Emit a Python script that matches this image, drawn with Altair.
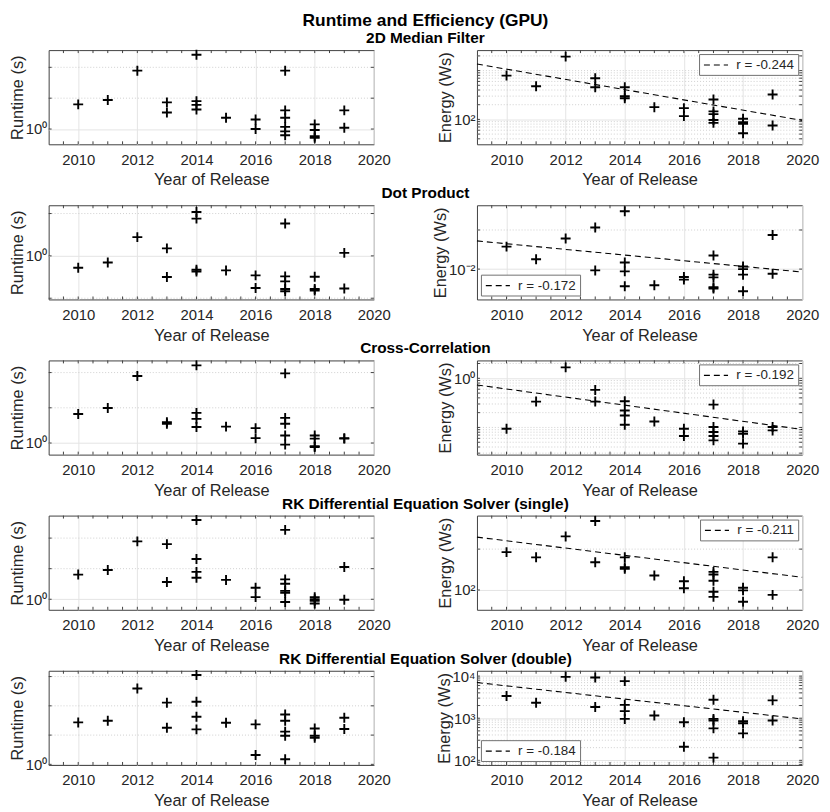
import altair as alt
import pandas as pd

FONT = "Liberation Sans"

main_title = "Runtime and Efficiency (GPU)"
bench_titles = ["2D Median Filter", "Dot Product", "Cross-Correlation",
                "RK Differential Equation Solver (single)",
                "RK Differential Equation Solver (double)"]

# ---------------- data ----------------
# 2D Median Filter
rt_year_1 = [2010, 2011, 2012, 2013, 2013, 2014, 2014, 2014, 2014, 2015, 2016, 2016,
             2017, 2017, 2017, 2017, 2017, 2017, 2018, 2018, 2018, 2018, 2019, 2019]
rt_val_1 = [1.74, 1.92, 3.71, 1.82, 1.45, 5.31, 1.87, 1.72, 1.55, 1.29, 1.24, 1.00,
            3.71, 1.52, 1.29, 1.05, 0.95, 0.87, 1.11, 0.98, 0.85, 0.82, 1.52, 1.03]
en_year_1 = [2010, 2011, 2012, 2013, 2013, 2014, 2014, 2014, 2015, 2016, 2016,
             2017, 2017, 2017, 2017, 2017, 2018, 2018, 2018, 2018, 2019, 2019]
en_val_1 = [791, 478, 1931, 697, 456, 456, 299, 272, 178, 170, 117,
            256, 146, 128, 97, 85, 103, 88, 81, 52, 324, 75]

# Dot Product
rt_year_2 = [2010, 2011, 2012, 2013, 2013, 2014, 2014, 2014, 2014, 2015, 2016, 2016,
             2017, 2017, 2017, 2017, 2017, 2018, 2018, 2018, 2019, 2019]
rt_val_2 = [0.823, 0.897, 1.36, 1.13, 0.707, 2.05, 1.84, 0.797, 0.775, 0.788, 0.727, 0.591,
            1.70, 0.715, 0.659, 0.582, 0.561, 0.711, 0.582, 0.567, 1.05, 0.586]
en_year_2 = [2010, 2011, 2012, 2013, 2013, 2014, 2014, 2014, 2014, 2015, 2016, 2016,
             2017, 2017, 2017, 2017, 2017, 2018, 2018, 2018, 2018, 2019, 2019]
en_val_2 = [0.0149, 0.0119, 0.0172, 0.0209, 0.00977, 0.0279, 0.01125, 0.0096, 0.00738,
            0.00751, 0.00869, 0.0083, 0.01273, 0.00906, 0.00864, 0.00725, 0.00709,
            0.01048, 0.0100, 0.00906, 0.00676, 0.0183, 0.00922]

# Cross-Correlation
rt_year_3 = [2010, 2011, 2012, 2013, 2013, 2014, 2014, 2014, 2014, 2015, 2016, 2016,
             2017, 2017, 2017, 2017, 2017, 2018, 2018, 2018, 2018, 2019, 2019]
rt_val_3 = [1.77, 1.99, 3.74, 1.51, 1.46, 4.61, 1.81, 1.61, 1.37, 1.38, 1.34, 1.10,
            3.94, 1.64, 1.46, 1.16, 0.97, 1.16, 1.09, 0.94, 0.925, 1.10, 1.09]
en_year_3 = [2010, 2011, 2012, 2013, 2013, 2014, 2014, 2014, 2014, 2015, 2016, 2016,
             2017, 2017, 2017, 2017, 2017, 2018, 2018, 2018, 2019, 2019]
en_val_3 = [0.094, 0.336, 1.67, 0.580, 0.336, 0.342, 0.221, 0.175, 0.1135, 0.132, 0.094, 0.067,
            0.292, 0.102, 0.0807, 0.067, 0.0546, 0.083, 0.0745, 0.0468, 0.102, 0.087]

# RK single
rt_year_4 = [2010, 2011, 2012, 2013, 2013, 2014, 2014, 2014, 2014, 2015, 2016, 2016,
             2017, 2017, 2017, 2017, 2017, 2017, 2018, 2018, 2018, 2018, 2019, 2019]
rt_val_4 = [1.75, 1.94, 3.71, 3.49, 1.48, 6.03, 2.49, 1.86, 1.63, 1.55, 1.30, 1.05,
            4.82, 1.57, 1.42, 1.21, 1.16, 0.94, 1.05, 1.00, 0.965, 0.908, 2.08, 0.99]
en_year_4 = [2010, 2011, 2012, 2013, 2013, 2014, 2014, 2014, 2015, 2016, 2016,
             2017, 2017, 2017, 2017, 2017, 2018, 2018, 2018, 2019, 2019]
en_val_4 = [190, 174, 248, 322, 160, 174, 147, 143, 128, 116, 103,
            136, 130, 117, 97, 89, 104, 99.3, 82, 174, 92]

# RK double
rt_year_5 = [2010, 2011, 2012, 2013, 2013, 2014, 2014, 2014, 2014, 2015, 2016, 2016,
             2017, 2017, 2017, 2017, 2017, 2018, 2018, 2018, 2019, 2019]
rt_val_5 = [2.70, 2.81, 6.04, 4.31, 2.38, 8.30, 4.41, 3.09, 2.29, 2.68, 2.58, 1.25,
            3.26, 2.81, 2.17, 1.97, 1.13, 2.34, 1.97, 1.88, 3.02, 2.31]
en_year_5 = [2010, 2011, 2012, 2013, 2013, 2014, 2014, 2014, 2014, 2015, 2016, 2016,
             2017, 2017, 2017, 2017, 2017, 2018, 2018, 2018, 2019, 2019]
en_val_5 = [3370, 2330, 9620, 9250, 1840, 7590, 2080, 1470, 962, 1160, 802, 210,
            2750, 962, 881, 575, 116, 848, 759, 437, 2660, 881]

rt_years = [rt_year_1, rt_year_2, rt_year_3, rt_year_4, rt_year_5]
rt_vals = [rt_val_1, rt_val_2, rt_val_3, rt_val_4, rt_val_5]
en_years = [en_year_1, en_year_2, en_year_3, en_year_4, en_year_5]
en_vals = [en_val_1, en_val_2, en_val_3, en_val_4, en_val_5]

# axis limits
rt_domain = [[0.71, 5.89], [0.49, 2.29], [0.796, 5.08], [0.788, 6.66], [0.986, 9.18]]
en_domain = [[30.9, 2632], [0.00584, 0.0310], [0.028, 2.31], [71.5, 353], [77.6, 13400]]

# labelled ticks
rt_major = [[1], [1], [1], [1], [1]]
rt_major_lab = [["10⁰"]] * 5
en_major = [[100], [0.01], [1], [100], [100, 1000, 10000]]
en_major_lab = [["10²"], ["10⁻²"], ["10⁰"], ["10²"], ["10²", "10³", "10⁴"]]

# minor grid values
rt_minor = [[2, 4], [0.5, 2], [2, 4], [2, 4], [2, 4, 8]]
en_minor = [
    [40, 50, 60, 70, 80, 90, 200, 300, 400, 500, 600, 700, 800, 900, 1000, 2000],
    [0.02],
    [0.03, 0.04, 0.05, 0.06, 0.07, 0.08, 0.09, 0.1, 0.2, 0.3, 0.4, 0.5, 0.6, 0.7, 0.8, 0.9, 2],
    [200],
    [80, 90, 200, 300, 400, 500, 600, 700, 800, 900,
     2000, 3000, 4000, 5000, 6000, 7000, 8000, 9000],
]

# regression lines (value at 2009 and 2020) and correlation labels
fit_years = [2009, 2020]
fit_vals = [[1364, 95.4], [0.01648, 0.00949], [0.732, 0.0912], [245, 124], [7030, 962]]
r_labels = ["r = -0.244", "r = -0.172", "r = -0.192", "r = -0.211", "r = -0.184"]
legend_corner = ["top-right", "bottom-left", "top-right", "top-right", "bottom-left"]

year_ticks = [2010, 2012, 2014, 2016, 2018, 2020]
year_minor_ticks = [2009.5, 2010, 2010.5, 2011, 2011.5, 2012, 2012.5, 2013, 2013.5,
                    2014, 2014.5, 2015, 2015.5, 2016, 2016.5, 2017, 2017.5, 2018,
                    2018.5, 2019, 2019.5]

# ---------------- style ----------------
PW, PH = 328, 95
HSPACE, VSPACE = 104, 61.5
TICK_FS, LABEL_FS, LEG_FS = 15, 16.5, 13.5
SUB_FS, MAIN_FS = 15.5, 17.5
CROSS = "M-1,0L1,0M0,-1L0,1"
TEXT = "#262626"
TLEN = 3


def panel(years, vals, dom, major, major_lab, minor, ytitle, fit=None, rlab=None,
          corner=None, texts=None):
    xs = alt.Scale(domain=[2009, 2020], nice=False, zero=False)
    ys = alt.Scale(type="log", domain=dom, nice=False, zero=False)
    expr = " : ".join(f"datum.value == {v} ? '{t}'" for v, t in zip(major, major_lab)) + " : ''"
    xaxis = alt.Axis(values=year_ticks, format="d", title="Year of Release", grid=True,
                     gridColor="#e4e4e4", gridWidth=1, domain=False, ticks=False,
                     labelPadding=8, titlePadding=5, labelFlush=False, labelOverlap=False,
                     labelFontSize=TICK_FS, titleFontSize=LABEL_FS, titleFontWeight="normal",
                     labelColor=TEXT, titleColor=TEXT, labelFont=FONT, titleFont=FONT)
    yaxis = alt.Axis(values=major, labelExpr=expr, title=ytitle, grid=True,
                     gridColor="#e4e4e4", gridWidth=1, domain=False, ticks=False,
                     labelPadding=2, titlePadding=0, labelOverlap=False, labelFlush=False,
                     labelFontSize=TICK_FS, titleFontSize=LABEL_FS, titleFontWeight="normal",
                     labelColor=TEXT, titleColor=TEXT, labelFont=FONT, titleFont=FONT)
    X = alt.X("year:Q", scale=xs, axis=xaxis)
    Y = alt.Y("v:Q", scale=ys, axis=yaxis)

    grid = alt.Chart(pd.DataFrame({"v": minor})).mark_rule(
        color="#c4c4c4", strokeDash=[1, 2], strokeWidth=0.8).encode(y=Y)

    # inward tick marks on all four sides (MATLAB style)
    xt = alt.Chart(pd.DataFrame({"year": year_minor_ticks}))
    xtick_b = xt.mark_rule(color="#404040", strokeWidth=1).encode(
        x=X, y=alt.value(PH), y2=alt.value(PH - TLEN))
    xtick_t = xt.mark_rule(color="#404040", strokeWidth=1).encode(
        x=X, y=alt.value(0), y2=alt.value(TLEN))
    yt = alt.Chart(pd.DataFrame({"v": list(major) + list(minor)}))
    ytick_l = yt.mark_rule(color="#404040", strokeWidth=1).encode(
        y=Y, x=alt.value(0), x2=alt.value(TLEN))
    ytick_r = yt.mark_rule(color="#404040", strokeWidth=1).encode(
        y=Y, x=alt.value(PW - TLEN), x2=alt.value(PW))

    pts = alt.Chart(pd.DataFrame({"year": years, "v": vals})).mark_point(
        shape=CROSS, filled=False, color="black", strokeWidth=1.9, size=100, opacity=1
    ).encode(x=X, y=Y)
    layers = [grid, xtick_b, xtick_t, ytick_l, ytick_r, pts]
    if fit is not None:
        fdf = pd.DataFrame({"year": fit_years, "v": fit, "r": [rlab, rlab]})
        line = alt.Chart(fdf).mark_line(color="black", strokeWidth=1.1).encode(
            x=X, y=Y,
            strokeDash=alt.StrokeDash(
                "r:N", scale=alt.Scale(domain=[rlab], range=[[6, 4]]),
                legend=alt.Legend(title=None, orient=corner, offset=4, fillColor="white",
                                  strokeColor="#707070", padding=3.5, cornerRadius=0,
                                  labelFontSize=LEG_FS, labelFont=FONT, labelColor=TEXT,
                                  symbolType="M-0.9,0L2.7,0", symbolStrokeColor="black",
                                  symbolStrokeWidth=1.2, symbolSize=182, labelOffset=19,
                                  symbolDash=[5, 3])))
        layers.append(line)
    if texts:
        for (t, xpos, ypos, fs) in texts:
            layers.append(
                alt.Chart(pd.DataFrame({"t": [t]})).mark_text(
                    font=FONT, fontSize=fs, fontWeight="bold", color="black",
                    align="center", baseline="middle"
                ).encode(x=alt.value(xpos), y=alt.value(ypos), text="t:N"))
    return alt.layer(*layers).properties(width=PW, height=PH)


center_x = (PW * 2 + HSPACE) / 2
panels = []
for i in range(5):
    texts = [(bench_titles[i], center_x, -12, SUB_FS)]
    if i == 0:
        texts.append((main_title, center_x, -29.5, MAIN_FS))
    panels.append(panel(rt_years[i], rt_vals[i], rt_domain[i], rt_major[i], rt_major_lab[i],
                        rt_minor[i], "Runtime (s)", texts=texts))
    panels.append(panel(en_years[i], en_vals[i], en_domain[i], en_major[i], en_major_lab[i],
                        en_minor[i], "Energy (Ws)", fit=fit_vals[i], rlab=r_labels[i],
                        corner=legend_corner[i]))

chart = alt.ConcatChart(
    concat=panels, columns=2, spacing={"row": VSPACE, "column": HSPACE}, bounds="flush"
).resolve_scale(strokeDash="independent").resolve_legend(strokeDash="independent").properties(
    padding={"left": 0, "top": 0, "right": 2, "bottom": 0}, background="white"
).configure_view(stroke="#404040", strokeWidth=1)

chart.save("out.html", embed_options={"renderer": "svg", "actions": False})
